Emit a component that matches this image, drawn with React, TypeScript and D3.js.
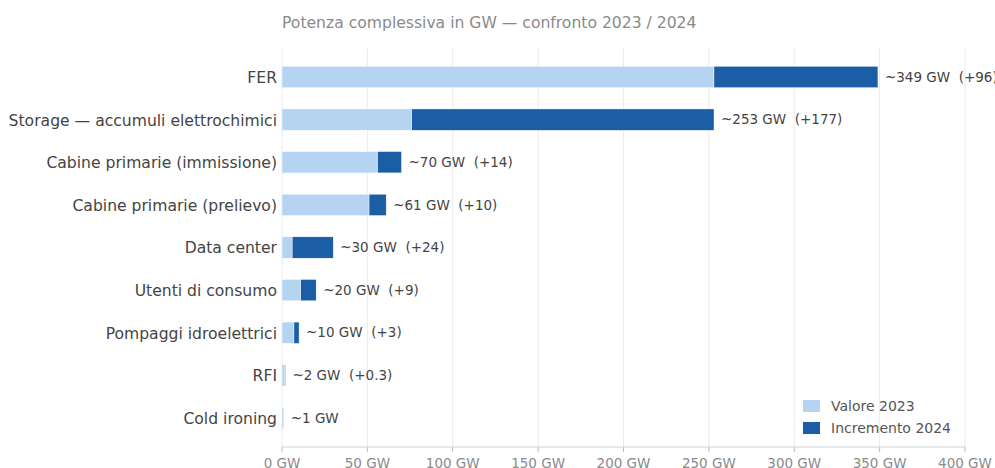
import * as d3 from 'd3';

const categories = [
  'FER',
  'Storage — accumuli elettrochimici',
  'Cabine primarie (immissione)',
  'Cabine primarie (prelievo)',
  'Data center',
  'Utenti di consumo',
  'Pompaggi idroelettrici',
  'RFI',
  'Cold ironing',
];
const value2023 = [253, 76, 56, 51, 6, 11, 7, 1.7, 1];
const increment2024 = [96, 177, 14, 10, 24, 9, 3, 0.3, 0];
const valueLabels = [
  '~349 GW  (+96)',
  '~253 GW  (+177)',
  '~70 GW  (+14)',
  '~61 GW  (+10)',
  '~30 GW  (+24)',
  '~20 GW  (+9)',
  '~10 GW  (+3)',
  '~2 GW  (+0.3)',
  '~1 GW',
];
const xTicks = [0, 50, 100, 150, 200, 250, 300, 350, 400];
const legendItems = ['Valore 2023', 'Incremento 2024'];

const W = 995;
const H = 468;
const LIGHT = '#b5d4f2';
const DARK = '#1b5ea6';
const FONT = '"DejaVu Sans", sans-serif';

export default function App(): React.ReactNode {
  const left = 282;
  const right = 965;
  const top = 48;
  const bottom = 447;

  const x = d3.scaleLinear().domain([0, 400]).range([left, right]);
  const y = d3
    .scaleBand<string>()
    .domain(categories)
    .range([top, bottom])
    .paddingInner(0.5)
    .paddingOuter(0.43);
  const bh = y.bandwidth();

  return (
    <svg
      width={W}
      height={H}
      style={{ position: 'absolute', left: 0, top: 0, fontFamily: FONT, background: '#fff' }}
    >
      <text x={left} y={28} fontSize={15.6} fill="#8a8a8a">
        Potenza complessiva in GW — confronto 2023 / 2024
      </text>

      {xTicks.map((t) => (
        <line key={`g${t}`} x1={x(t)} x2={x(t)} y1={top} y2={bottom} stroke="#ebebeb" strokeWidth={1} />
      ))}

      {categories.map((c, i) => {
        const y0 = y(c)!;
        const a = value2023[i];
        const b = increment2024[i];
        return (
          <g key={c}>
            <rect x={x(0)} y={y0} width={x(a) - x(0)} height={bh} fill={LIGHT} stroke="#fff" strokeWidth={0.4} />
            {b > 0 && (
              <rect x={x(a)} y={y0} width={x(a + b) - x(a)} height={bh} fill={DARK} stroke="#fff" strokeWidth={0.4} />
            )}
            <text
              x={left - 5}
              y={y0 + bh / 2}
              dy="0.38em"
              textAnchor="end"
              fontSize={15.6}
              fill="#444"
            >
              {c}
            </text>
            <text
              x={x(a + b) + 7}
              y={y0 + bh / 2}
              dy="0.35em"
              fontSize={13.5}
              fill="#444"
              style={{ whiteSpace: 'pre' }}
            >
              {valueLabels[i]}
            </text>
          </g>
        );
      })}

      <line x1={left} x2={right} y1={bottom} y2={bottom} stroke="#d4d4d4" />
      {xTicks.map((t) => (
        <g key={`t${t}`}>
          <line x1={x(t)} x2={x(t)} y1={bottom} y2={bottom + 5} stroke="#bbb" />
          <text x={x(t)} y={bottom + 21} textAnchor="middle" fontSize={13.5} fill="#8a8a8a">
            {`${t} GW`}
          </text>
        </g>
      ))}

      {legendItems.map((l, i) => (
        <g key={l} transform={`translate(803, ${400 + i * 22})`}>
          <rect width={17} height={12} fill={i === 0 ? LIGHT : DARK} />
          <text x={28} y={6} dy="0.35em" fontSize={14} fill="#555">
            {l}
          </text>
        </g>
      ))}
    </svg>
  );
}
